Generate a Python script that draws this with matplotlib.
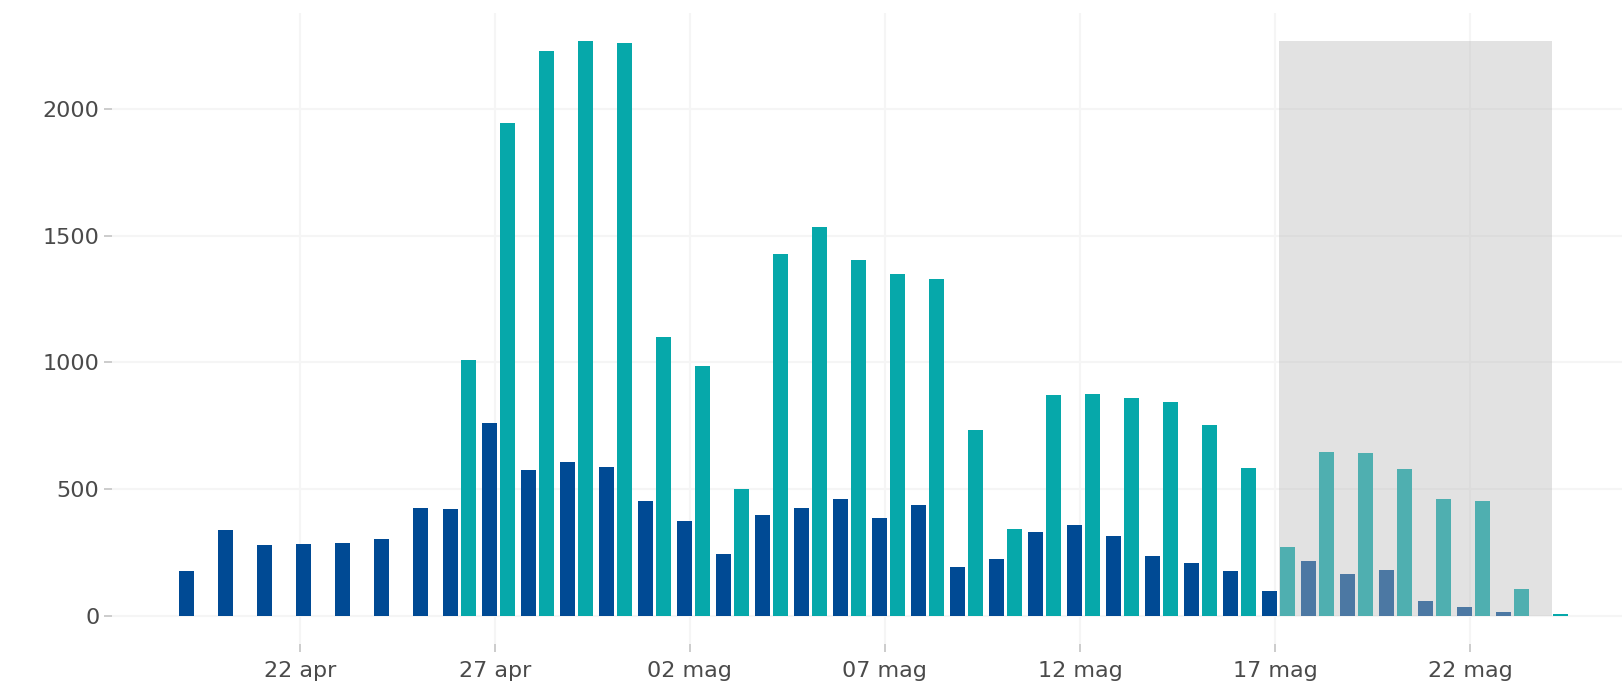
import numpy as np
import matplotlib
matplotlib.use("Agg")
import matplotlib.pyplot as plt

# days from 19 apr to 24 mag
days = ["19 apr", "20 apr", "21 apr", "22 apr", "23 apr", "24 apr", "25 apr",
        "26 apr", "27 apr", "28 apr", "29 apr", "30 apr",
        "01 mag", "02 mag", "03 mag", "04 mag", "05 mag", "06 mag", "07 mag",
        "08 mag", "09 mag", "10 mag", "11 mag", "12 mag", "13 mag", "14 mag",
        "15 mag", "16 mag", "17 mag", "18 mag", "19 mag", "20 mag", "21 mag",
        "22 mag", "23 mag", "24 mag"]
blue = [178, 339, 280, 282, 289, 301, 427,
        420, 759, 577, 605, 586,
        451, 372, 242, 398, 427, 460, 384, 436, 194, 225, 332, 360, 315, 235,
        207, 178, 97, 218, 164, 182, 57, 33, 14, 1]
teal = [None, None, None, None, None, None, None,
        1009, 1943, 2230, 2268, 2259,
        1099, 985, 501, 1426, 1535, 1402, 1350, 1329, 731, 344, 871, 875, 859, 844,
        752, 584, 271, 645, 641, 581, 462, 451, 107, 5]
tick_labels = ["22 apr", "27 apr", "02 mag", "07 mag", "12 mag", "17 mag", "22 mag"]
shade_start, shade_end = "17 mag", "24 mag"

c_blue = "#004a94"
c_teal = "#06a8aa"
txt = "#4a4a4a"

x = np.arange(len(days))
t = np.array([np.nan if v is None else v for v in teal], dtype=float)
b = np.array(blue, dtype=float)
paired = ~np.isnan(t)

fig = plt.figure(figsize=(16.22, 6.86), dpi=100)
ax = fig.add_axes([0.069, 0.061, 0.931, 0.92])

w = 0.39
shift = 0.1
ax.bar(x[~paired] + shift, b[~paired], width=w, color=c_blue, zorder=2)
ax.bar(x[paired] + shift - 0.23, b[paired], width=w, color=c_blue, zorder=2)
ax.bar(x[paired] + shift + 0.23, t[paired], width=w, color=c_teal, zorder=2)

# grey box over the last days
s0 = days.index(shade_start) + shift
s1 = days.index(shade_end) + shift
ax.fill_between([s0, s1], 0, np.nanmax(t), color="#bababa", alpha=0.41,
                linewidth=0, zorder=3)

ax.set_xlim(-1.82, 36.9)
ax.set_ylim(-112, 2378)
ax.set_yticks([0, 500, 1000, 1500, 2000])
ax.set_xticks([days.index(d) for d in ["22 apr", "27 apr", "02 mag", "07 mag",
                                       "12 mag", "17 mag", "22 mag"]])
ax.set_xticklabels(tick_labels)

ax.grid(True, color="#f5f5f5", linewidth=1.5, zorder=0)
ax.set_axisbelow(True)
for s in ax.spines.values():
    s.set_visible(False)
ax.tick_params(axis="both", colors="#c4c4c4", length=6, width=1.2,
               labelcolor=txt, labelsize=16)
ax.tick_params(axis="y", pad=3)
ax.tick_params(axis="x", pad=6)

fig.savefig("out.png", dpi=100)
